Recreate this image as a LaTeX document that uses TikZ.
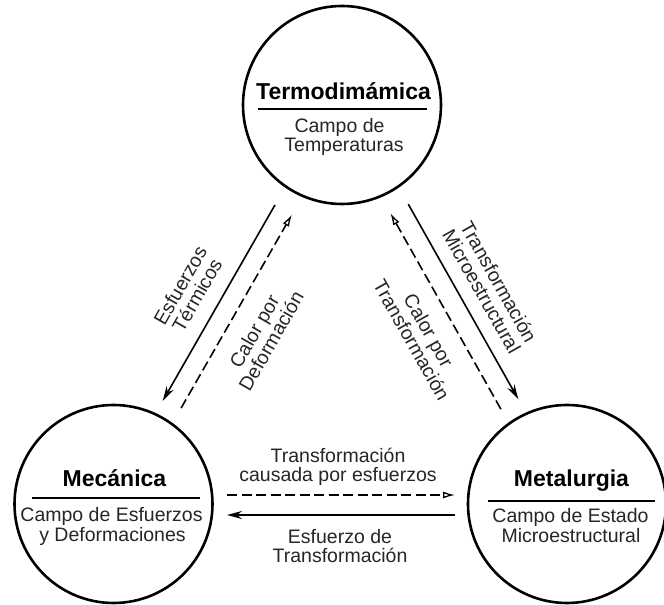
\documentclass[tikz,border=0pt]{standalone}
\usepackage{fontspec}
\setmainfont{Liberation Sans}
\usetikzlibrary{arrows.meta,calc}

\begin{document}
\begin{tikzpicture}[x=1pt,y=1pt,
  unit/.style={circle, draw, line width=2.6pt, minimum size=198pt, inner sep=0pt},
  title/.style={anchor=base, inner sep=0pt, font=\fontsize{23}{25}\selectfont\bfseries},
  sub/.style={anchor=base, inner sep=0pt, text=black!85, font=\fontsize{19.5}{20}\selectfont},
  lbl/.style={align=center, inner sep=0pt, text=black!85, font=\fontsize{19.5}{19.5}\selectfont},
  rule/.style={line width=2.2pt},
  solidarrow/.style={line width=1.6pt, -{Stealth[length=15pt,width=8pt]}},
  dasharrow/.style={line width=1.6pt, dash pattern=on 10pt off 4.5pt,
    -{Latex[open,length=12pt,width=7pt,line width=1.3pt]}},
]
\fill[white] (0,0) rectangle (664,605);
\useasboundingbox (0,0) rectangle (664,605);

% the three fields
\node[unit] (T)  at (342,500)   {};
\node[unit] (M)  at (113.5,101) {};
\node[unit] (Me) at (567,101)   {};

% Termodinamica
\node[title] (Tt)  at ($(T)+(1.5,5)$)   {Termodimámica};
\draw[rule] ($(T)+(-84,-4)$) -- ($(T)+(85,-4)$);
\node[sub]   (Ts1) at ($(T)+(-2.5,-28)$) {Campo de};
\node[sub]   (Ts2) at ($(T)+(2,-47)$)    {Temperaturas};

% Mecanica
\node[title] (Mt)  at ($(M)+(1,17)$)   {Mecánica};
\draw[rule] ($(M)+(-81.5,6)$) -- ($(M)+(86.5,6)$);
\node[sub]   (Ms1) at ($(M)+(-2,-18)$) {Campo de Esfuerzos};
\node[sub]   (Ms2) at ($(M)+(-1,-38)$) {y Deformaciones};

% Metalurgia
\node[title] (Met)  at ($(Me)+(4.5,17)$)  {Metalurgia};
\draw[rule] ($(Me)+(-79,3)$) -- ($(Me)+(88,3)$);
\node[sub]   (Mes1) at ($(Me)+(3.5,-19)$) {Campo de Estado};
\node[sub]   (Mes2) at ($(Me)+(4,-39)$)   {Microestructural};

% Termodinamica <-> Mecanica
\draw[solidarrow] ($(T)!120pt!(M)!8.5pt!-90:(M)$) -- ($(T)!346pt!(M)!8.5pt!-90:(M)$);
\draw[dasharrow]  ($(T)!343pt!(M)!11pt!90:(M)$)   -- ($(T)!120pt!(M)!11pt!90:(M)$);
\node[lbl, rotate=60.2] (l1) at ($(T)!237pt!(M)!41pt!-90:(M)$) {Esfuerzos\\Térmicos};
\node[lbl, rotate=60.2] (l2) at ($(T)!240pt!(M)!46pt!90:(M)$)  {Calor por\\Deformación};

% Termodinamica <-> Metalurgia
\draw[solidarrow] ($(T)!119pt!(Me)!9pt!90:(Me)$)   -- ($(T)!343pt!(Me)!9pt!90:(Me)$);
\draw[dasharrow]  ($(T)!343pt!(Me)!11pt!-90:(Me)$) -- ($(T)!118pt!(Me)!11pt!-90:(Me)$);
\node[lbl, rotate=-60.6] (l3) at ($(T)!231pt!(Me)!40pt!90:(Me)$)  {Transformación\\Microestructural};
\node[lbl, rotate=-60.6] (l4) at ($(T)!239pt!(Me)!45pt!-90:(Me)$) {Calor por\\Transformación};

% Mecanica <-> Metalurgia
\draw[dasharrow]  ($(M)!113.5pt!(Me)!9pt!90:(Me)$)   -- ($(M)!341.5pt!(Me)!9pt!90:(Me)$);
\draw[solidarrow] ($(M)!341.5pt!(Me)!11pt!-90:(Me)$) -- ($(M)!113.5pt!(Me)!11pt!-90:(Me)$);
\node[lbl] (l5) at (338,138) {Transformación\\causada por esfuerzos};
\node[lbl] (l6) at (340,59)  {Esfuerzo de\\Transformación};
\end{tikzpicture}
\end{document}
